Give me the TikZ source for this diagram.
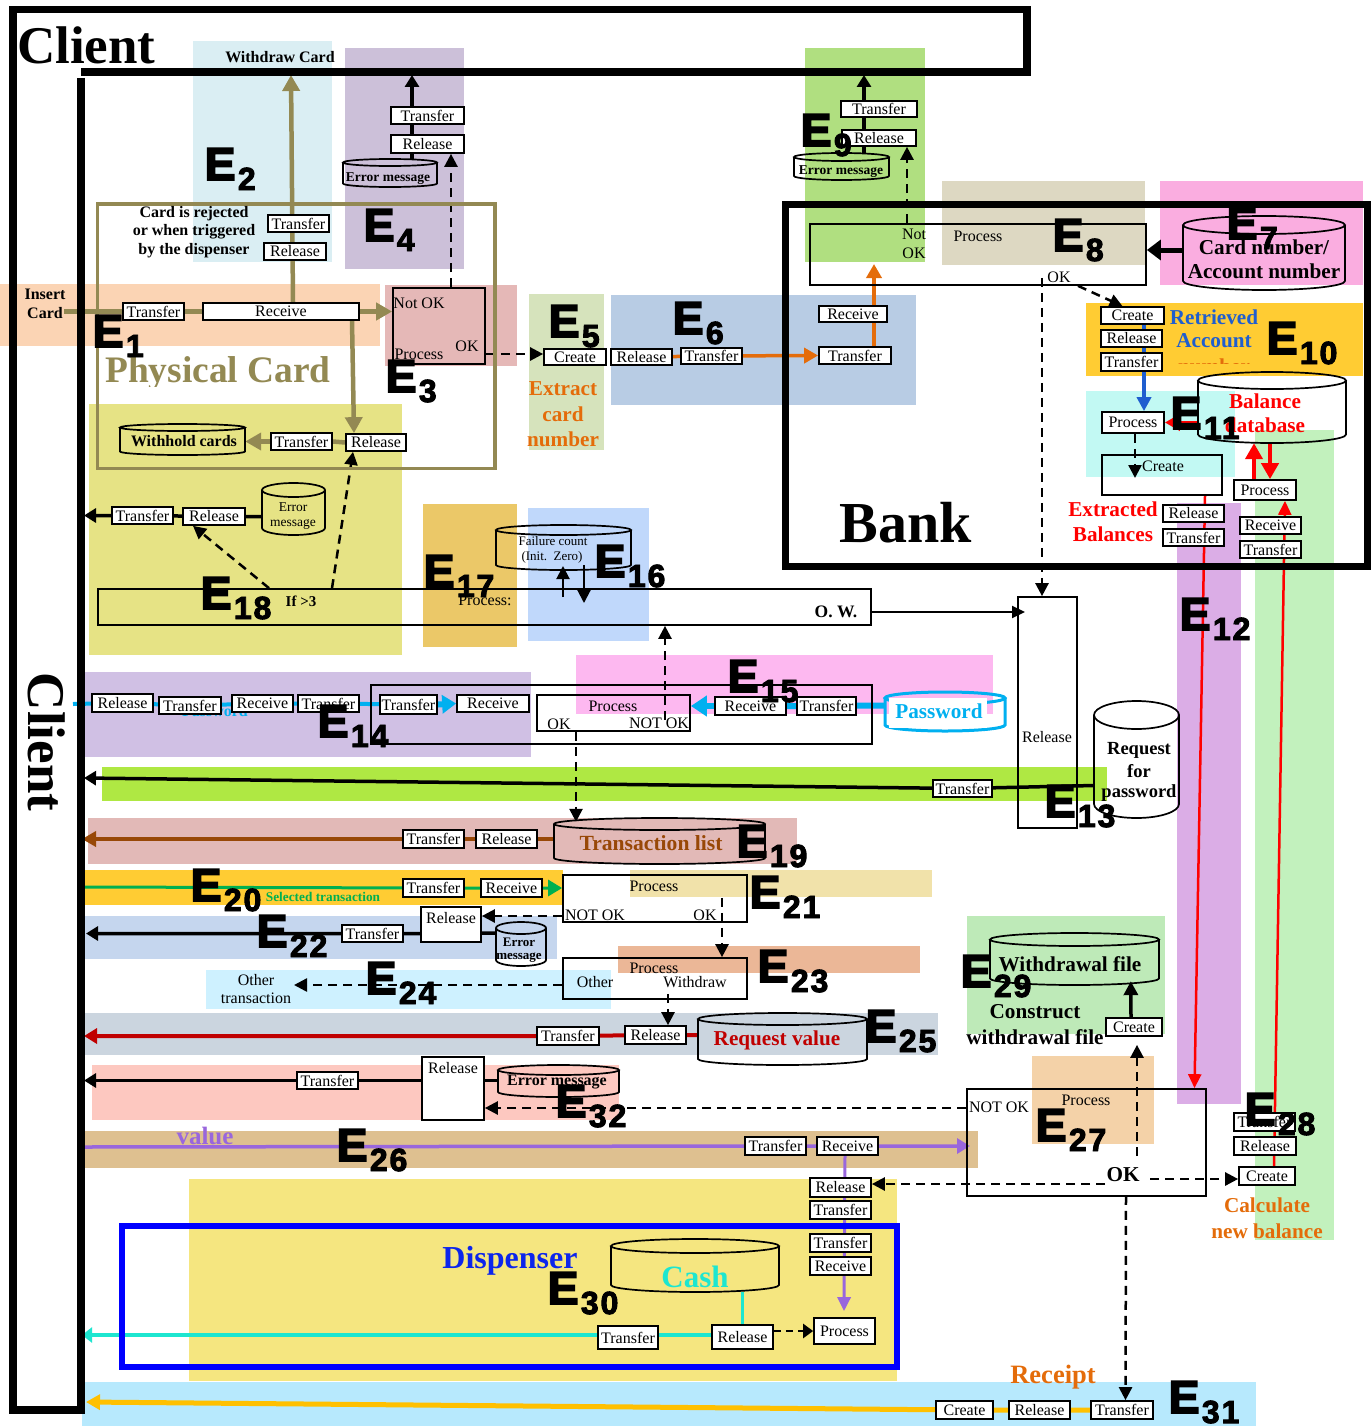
\documentclass[tikz,border=0pt]{standalone}
\usepackage{fontspec}
\setmainfont{Liberation Serif}
\newfontfamily\efont[FakeBold=4]{Liberation Sans Bold}
\newfontfamily\esub[FakeBold=3,LetterSpace=6]{Liberation Sans Bold}
\usetikzlibrary{arrows.meta,calc}
\pgfdeclarelayer{bg}\pgfdeclarelayer{conn}
\pgfsetlayers{bg,conn,main}
\definecolor{ce1}{HTML}{FBD4B4}\definecolor{ce2}{HTML}{DAEEF3}\definecolor{ce3}{HTML}{E5B8B7}
\definecolor{ce4}{HTML}{CCC0D9}\definecolor{ce5}{HTML}{D6E3BC}\definecolor{ce6}{HTML}{B8CCE4}
\definecolor{ce7}{HTML}{FAADE0}\definecolor{ce8}{HTML}{DDD8C2}\definecolor{ce9}{HTML}{B0DF80}
\definecolor{ce10}{HTML}{FFCC33}\definecolor{ce11}{HTML}{C2F9F3}\definecolor{ce12}{HTML}{DBADE6}
\definecolor{ce13}{HTML}{AFE843}\definecolor{ce14}{HTML}{D0C0E4}\definecolor{ce15}{HTML}{FDB8F0}
\definecolor{ce16}{HTML}{C0D8FB}\definecolor{ce17}{HTML}{EBC868}\definecolor{ce18}{HTML}{E6E385}
\definecolor{ce19}{HTML}{E2B9B7}\definecolor{ce21}{HTML}{F1E2AA}\definecolor{ce22}{HTML}{C5D6EE}
\definecolor{ce23}{HTML}{EBB797}\definecolor{ce24}{HTML}{CEF1FF}\definecolor{ce25}{HTML}{CBD5DF}
\definecolor{ce26}{HTML}{DEC090}\definecolor{ce27}{HTML}{F4D2A8}\definecolor{ce28}{HTML}{C2F1BD}
\definecolor{ce29}{HTML}{BEEAB8}\definecolor{ce30}{HTML}{F5E680}\definecolor{ce31}{HTML}{B7E9FD}
\definecolor{ce32}{HTML}{FDC8C0}
\definecolor{olive}{HTML}{938953}\definecolor{orng}{HTML}{E46C0A}\definecolor{skyb}{HTML}{00B0F0}
\definecolor{brwn}{HTML}{984807}\definecolor{grn}{HTML}{00B050}\definecolor{dkred}{HTML}{C00000}
\definecolor{purp}{HTML}{9966DD}\definecolor{aqua}{HTML}{1DE6D0}\definecolor{midb}{HTML}{1F5ECF}
\definecolor{gold}{HTML}{FFC000}
\newcount\txc
\tikzset{
 fs/.style={font=\fontsize{#1}{#1}\selectfont},
 bfs/.style={font=\fontsize{#1}{#1}\selectfont\bfseries},
 tbox/.style={draw,fill=white,line width=1.7pt,inner sep=0pt,fs=16},
 pbox/.style={draw,line width=1.7pt,inner sep=0pt},
 cylline/.style={line width=1.7pt},
 txtn/.style={inner sep=0pt,align=center},
 olinea/.style={olive,line width=4.5pt},
 otip/.style={-{Triangle[length=16pt,width=17pt]}},
 bline/.style={black,line width=3.5pt},
 btip/.style={-{Triangle[length=12pt,width=14pt]}},
 dline/.style={black,line width=2.5pt,dash pattern=on 9pt off 6pt,-{Triangle[length=13pt,width=13pt]}},
 thinb/.style={black,line width=2pt,-{Triangle[length=11pt,width=10pt]}},
 tipk/.style={-{Triangle[length=14pt,width=15pt]}},
 rthin/.style={red,line width=2.5pt},
}
\newcommand\reg[5]{\fill[#1] (#2,#3) rectangle (#4,#5);}
\newcommand\bx[6]{%
 \pgfmathsetmacro\cx{(#2+#4)/2}\pgfmathsetmacro\cy{(#3+#5)/2}%
 \pgfmathsetmacro\bxw{#4-#2}\pgfmathsetmacro\bxh{#5-#3}%
 \node[tbox,minimum width=\bxw pt,minimum height=\bxh pt] (#1) at (\cx,\cy) {\raisebox{-1.5pt}{#6}};}
\newcommand\fbx[5]{%
 \pgfmathsetmacro\cx{(#2+#4)/2}\pgfmathsetmacro\cy{(#3+#5)/2}%
 \pgfmathsetmacro\bxw{#4-#2}\pgfmathsetmacro\bxh{#5-#3}%
 \node[pbox,minimum width=\bxw pt,minimum height=\bxh pt] (#1) at (\cx,\cy) {};}
\newcommand\wbx[5]{%
 \pgfmathsetmacro\cx{(#2+#4)/2}\pgfmathsetmacro\cy{(#3+#5)/2}%
 \pgfmathsetmacro\bxw{#4-#2}\pgfmathsetmacro\bxh{#5-#3}%
 \node[pbox,fill=white,minimum width=\bxw pt,minimum height=\bxh pt] (#1) at (\cx,\cy) {};}
% \cyl[style]{name}{x1}{y1}{x2}{y2}{ry}
\newcommand\cyl[7][]{%
 \pgfmathsetmacro\cx{(#3+#5)/2}\pgfmathsetmacro\cy{(#4+#6)/2}%
 \pgfmathsetmacro\bxw{#5-#3}\pgfmathsetmacro\bxh{#6-#4}\pgfmathsetmacro\rx{(#5-#3)/2}%
 \pgfmathsetmacro\ya{#4+#7}\pgfmathsetmacro\yb{#6-#7}%
 \node[inner sep=0pt,minimum width=\bxw pt,minimum height=\bxh pt] (#2) at (\cx,\cy) {};
 \draw[cylline,#1] (\cx,\ya) ellipse [x radius=\rx pt,y radius=#7pt];
 \draw[cylline,#1] (#3,\ya) -- (#3,\yb) arc [start angle=180,end angle=360,x radius=\rx pt,y radius=#7pt] -- (#5,\ya);}
\newcommand\txt[4][fs=16]{\global\advance\txc by 1
 \node[txtn,#1] (lab\the\txc) at (#2,#3) {#4};}
\newcommand\el[3]{\node[inner sep=0pt,anchor=base west,xshift=-2.5pt] (E#3) at (#1,#2)
 {\efont\fontsize{46}{46}\selectfont E\kern2.5pt\raisebox{-10pt}{\esub\fontsize{32}{32}\selectfont #3}};}
\begin{document}
\begin{tikzpicture}[x=1pt,y=-1pt]
\useasboundingbox (0,0) rectangle (1372,1426);
\begin{pgfonlayer}{bg}
\fill[white] (0,0) rectangle (1372,1426);
\reg{ce28}{1255}{430}{1334}{1240}
\reg{ce2}{193}{41}{332}{262}
\reg{ce4}{345}{48}{464}{269}
\reg{ce1}{0}{284}{380}{346}
\reg{ce3}{385}{285}{517}{366}
\reg{ce5}{529}{294}{604}{450}
\reg{ce6}{611}{295}{916}{405}
\reg{ce9}{805}{48}{925}{262}
\reg{ce7}{1160}{181}{1363}{285}
\reg{ce8}{942}{181}{1145}{265}
\reg{ce10}{1086}{303}{1363}{376}
\reg{ce11}{1086}{391}{1235}{477}
\reg{ce12}{1177}{503}{1241}{1104}
\reg{ce18}{89}{404}{402}{655}
\reg{ce17}{423}{504}{517}{647}
\reg{ce16}{528}{508}{649}{641}
\reg{ce14}{85}{672}{531}{757}
\reg{ce15}{576}{655}{993}{714}
\reg{ce13}{102}{767}{1107}{801}
\reg{ce19}{88}{818}{797}{864}
\reg{ce10}{85}{870}{563}{905}
\reg{ce21}{630}{870}{932}{897}
\reg{ce22}{85}{916}{557}{959}
\reg{ce23}{618}{946}{920}{973}
\reg{ce24}{206}{970}{611}{1009}
\reg{ce25}{85}{1013}{938}{1055}
\reg{ce32}{92}{1065}{619}{1120}
\reg{ce26}{85}{1131}{978}{1168}
\reg{ce27}{1032}{1056}{1154}{1144}
\reg{ce29}{967}{916}{1165}{1034}
\reg{ce30}{189}{1179}{897}{1381}
\reg{ce31}{82}{1382}{1256}{1426}
\end{pgfonlayer}
% frames
\draw[line width=7.5pt,miter limit=10] (81,78) -- (81,1410) -- (13,1410) -- (13,9.5) -- (1027,9.5) -- (1027,72) -- (81,72);
\draw[line width=7pt] (785,204) rectangle (1367,566);
\draw[olive,line width=3.5pt] (97.5,204) rectangle (495,468.5);
\draw[blue,line width=5.5pt] (122,1226) rectangle (897,1367);
\coordinate (cledge) at (84,0);
\coordinate (edgeb) at (82,0);
\coordinate (edgec) at (86,0);
\coordinate (edged) at (970,0);
\coordinate (errline) at (0,1108);
% boxes top-left
\bx{tA}{123}{303}{184}{320}{Transfer}
\bx{rcv}{203}{303}{359}{320}{Receive}
\bx{trB}{268}{215}{329}{232}{Transfer}
\bx{rlB}{264}{243}{326}{260}{Release}
\bx{trD}{391}{107}{464}{124}{Transfer}
\bx{rlD}{391}{135}{464}{153}{Release}
\cyl{errD}{343}{159}{437}{187}{3.5}
\fbx{pC}{393}{288}{485}{364}
\cyl{wh}{120}{424}{245}{455}{3.5}
\bx{trW}{271}{433}{332}{450}{Transfer}
\bx{rlW}{346}{434}{406}{451}{Release}
\bx{crE}{544}{349}{606}{365}{Create}
\bx{rlF}{611}{349}{672}{365}{Release}
\bx{trF}{681}{348}{742}{364}{Transfer}
\bx{rcG}{819}{306}{887}{322}{Receive}
\bx{trG}{819}{347}{891}{364}{Transfer}
\bx{trI}{841}{101}{917}{117}{Transfer}
\bx{rlI}{842}{130}{916}{146}{Release}
\cyl{errI}{794}{153}{889}{180}{4}
\fbx{pH}{810}{224}{1146}{285}
\cyl{cn}{1183}{216}{1345}{290}{9}
\bx{crJ}{1101}{307}{1164}{324}{Create}
\bx{rlJ}{1101}{330}{1162}{347}{Release}
\bx{trJ}{1101}{353}{1162}{371}{Transfer}
\cyl{bal}{1198}{372}{1346}{443}{8.5}
\bx{prK}{1102}{412}{1164}{433}{Process}
\fbx{cbK}{1102}{455}{1222}{495}
\bx{rlL}{1163}{505}{1224}{522}{Release}
\bx{trL}{1163}{529}{1224}{546}{Transfer}
\bx{prM}{1234}{480}{1296}{500}{Process}
\bx{rcM}{1240}{517}{1301}{534}{Receive}
\bx{trM}{1240}{541}{1301}{558}{Transfer}
% E18 row
\cyl{errR}{262}{483}{325}{535}{7}
\bx{trR}{112}{507}{173}{524}{Transfer}
\bx{rlR}{183}{508}{245}{525}{Release}
\fbx{pR}{98}{589}{871}{625}
\cyl{fc}{496}{525}{631}{570}{5}
% E14 row
\bx{rlN}{92}{694}{153}{712}{Release}
\bx{trN}{159}{697}{221}{714}{Transfer}
\bx{rcN}{232}{695}{293}{712}{Receive}
\bx{trO}{298}{695}{359}{712}{Transfer}
\fbx{bigN}{371}{685}{872}{744}
\bx{trP}{380}{695}{437}{714}{Transfer}
\bx{rcP}{457}{695}{529}{712}{Receive}
\fbx{prO}{537}{695}{690}{731}
\bx{rcO}{715}{697}{786}{715}{Receive}
\bx{trQ}{797}{697}{856}{715}{Transfer}
\cyl[draw=skyb,line width=3pt]{pw}{885}{692}{1005}{731}{6}
\fill[white] (889,698) rectangle (987,728);
\fbx{relbig}{1018}{597}{1077}{828}
\cyl{rq}{1094}{701}{1179}{818}{14}
\bx{trS}{933}{780}{992}{797}{Transfer}
% E19
\bx{trT}{403}{830}{464}{848}{Transfer}
\bx{rlT}{476}{830}{537}{848}{Release}
\cyl{tl}{554}{818}{765}{864}{6}
% E20-22
\bx{trU}{403}{879}{464}{897}{Transfer}
\bx{rcU}{481}{879}{542}{897}{Receive}
\fbx{pU}{563}{875}{747}{922}
\wbx{rlV}{421}{907}{481}{942}
\bx{trV}{342}{925}{403}{942}{Transfer}
\cyl{errV}{496}{922}{546}{966}{6}
\fbx{pW}{563}{958}{747}{999}
\bx{rlX}{625}{1026}{686}{1044}{Release}
\bx{trX}{537}{1027}{599}{1045}{Transfer}
\cyl{rv}{698}{1013}{867}{1065}{6}
\wbx{rlY}{422}{1057}{484}{1120}
\bx{trY}{297}{1072}{358}{1089}{Transfer}
\cyl{errY}{498}{1065}{619}{1097}{5}
\fbx{pZ}{967}{1089}{1206}{1196}
\cyl{wf}{990}{933}{1159}{985}{6.5}
\bx{crZ}{1106}{1018}{1162}{1036}{Create}
\bx{trAA}{745}{1137}{806}{1155}{Transfer}
\bx{rcAA}{817}{1137}{878}{1155}{Receive}
\bx{rlBB}{810}{1178}{871}{1197}{Release}
\bx{trBB}{810}{1201}{871}{1219}{Transfer}
\bx{trCC}{810}{1234}{871}{1252}{Transfer}
\bx{rcCC}{810}{1257}{871}{1275}{Receive}
\bx{prCC}{814}{1318}{875}{1344}{Process}
\cyl{cash}{611}{1239}{779}{1292}{7}
\bx{rlDD}{712}{1325}{773}{1349}{Release}
\bx{trDD}{598}{1326}{658}{1349}{Transfer}
\bx{crEE}{936}{1401}{993}{1419}{Create}
\bx{rlEE}{1009}{1401}{1070}{1419}{Release}
\bx{trEE}{1091}{1401}{1153}{1419}{Transfer}
\bx{trFF}{1234}{1113}{1295}{1131}{Transfer}
\bx{rlFF}{1234}{1137}{1296}{1155}{Release}
\bx{crFF}{1239}{1167}{1295}{1185}{Create}
% free ends
\coordinate (insfree) at (64,311.5);
\coordinate (wcfree) at (291,75);
\coordinate (topD) at (412,75);
\coordinate (topI) at (864,75);
\coordinate (orH) at (874,264);
\coordinate (tipK) at (1135,478);
\coordinate (owend) at (1025,612);
\coordinate (fcupa) at (563,597);
\coordinate (fcupb) at (563,566);
\coordinate (fcdna) at (584,565);
\coordinate (fcdnb) at (584,603);
\coordinate (cystart) at (73,704);
\coordinate (pvstart) at (82,1147);
\coordinate (othertx) at (294,985);
\coordinate (wfstart) at (82,887);
\coordinate (cashend) at (82,1335);
\coordinate (rcpend) at (86,1402);
\coordinate (clientS) at (84,778);
\begin{pgfonlayer}{conn}
\node[txtn,bfs=16,text=skyb] (pwhidden) at (215,711) {Password};
% olive
\draw[olinea] (insfree) -- (tA) -- (rcv);
\draw[olinea,otip] (rcv.east) -- (rcv.east -| pC.west);
\draw[olinea,otip] ([xshift=12pt]rcv.north) -- (wcfree);
\draw[olinea,otip] ([xshift=71pt]rcv.south) -- ([xshift=-22pt]rlW.north);
\draw[olinea] (rlW.west) -- (trW.east);
\draw[olinea,otip] (trW.west) -- (trW.west -| wh.east);
% E4
\draw[bline,btip] ([xshift=22pt]errD.north) -- (topD);
\draw[dline] ([xshift=12pt]pC.north) -- ([xshift=23.5pt]rlD.south);
\draw[dline] ([yshift=-28pt]pC.east) -- ([yshift=3pt]crE.west);
% E6
\draw[orng,line width=3.5pt,tipk] (rlF) -- (trF) -- (trG.west);
\draw[orng,line width=3.5pt,tipk] ([xshift=19pt]trG.north) -- (orH);
% E9
\draw[bline,btip] ([xshift=22.5pt]errI.north) -- (topI);
\draw[dline] ([xshift=-71pt]pH.north) -- ([xshift=28pt]rlI.south);
% E8 etc
\draw[black,line width=5pt,-{Triangle[length=14pt,width=20pt]}] ([yshift=3pt]cn.west) -- ([yshift=3pt]cn.west -| pH.east);
\draw[dline] ([xshift=100pt]pH.south) -- ([xshift=-10pt]crJ.north);
\draw[dline] ([xshift=64pt,yshift=8pt]pH.south) -- ([xshift=-5.5pt]relbig.north);
\draw[midb,line width=4pt,-{Triangle[length=14pt,width=14pt]}] ([xshift=11.5pt]crJ.south) -- ([xshift=11pt]prK.north);
\draw[red,line width=4pt,-{Triangle[length=15pt,width=16pt]}] (prK.east -| bal.west) -- (prK.east);
\draw[dline] ([xshift=2pt]prK.south) -- (tipK);
\draw[rthin,-{Triangle[length=14pt,width=13pt]}] ([xshift=43pt]cbK.south) -- ([xshift=108pt]pZ.north);
\draw[rthin,-{Triangle[length=14pt,width=13pt]}] ([xshift=7pt]crFF.north) -- ([xshift=13.5pt]trM.south) -- ([xshift=20pt]prM.south);
\draw[red,line width=4.5pt,-{Triangle[length=16pt,width=17pt]}] ([xshift=-11pt]prM.north) -- ([xshift=-18pt]bal.south);
\draw[red,line width=4.5pt,-{Triangle[length=16pt,width=17pt]}] ([xshift=-2pt]bal.south) -- ([xshift=5pt]prM.north);
% E18
\draw[bline,btip] (errR.west |- rlR) -- (rlR) -- (trR) -- (trR.west -| cledge);
\draw[dline] ([xshift=-152.5pt]pR.north) -- ([xshift=-23pt]rlW.south);
\draw[dline] ([xshift=-215.5pt]pR.north) -- ([xshift=-21pt]rlR.south);
\draw[black,line width=2pt,-{Triangle[length=13pt,width=12pt]}] ([yshift=-5pt]pR.east) -- (owend);
\draw[thinb,-{Triangle[length=13pt,width=13pt]}] (fcupa) -- (fcupb);
\draw[thinb,-{Triangle[length=13pt,width=13pt]}] (fcdna) -- (fcdnb);
% E14 E15
\draw[skyb,line width=4pt] (cystart) -- (rlN) -- (trN) -- (rcN) -- (trO) -- (trP);
\draw[skyb,line width=6pt,-{Triangle[length=14pt,width=18pt]}] (trP.east) -- (rcP.west);
\draw[skyb,line width=6pt] ([yshift=6pt]pw.west) -- (trQ) -- (rcO);
\draw[skyb,line width=6pt,-{Triangle[length=16pt,width=20pt]}] (rcO.west) -- (rcO.west -| prO.east);
\draw[dline] ([xshift=51.5pt,yshift=-7pt]prO.center) -- ([xshift=180.5pt]pR.south);
\draw[dline] ([xshift=-37.5pt]prO.south) -- ([xshift=-83.5pt,yshift=-4pt]tl.north);
% E13
\draw[bline,btip] ([yshift=-26pt]rq.west) -- (trS) -- (clientS);
% E19
\draw[brwn,line width=4pt,-{Triangle[length=14pt,width=15pt]}] (tl.west |- rlT) -- (rlT) -- (trT) -- (trT.west -| edgeb);
% E20
\draw[grn,line width=3pt,-{Triangle[length=14pt,width=16pt]}] (wfstart) -- (trU) -- (rcU) -- (rcU.east -| pU.west);
\draw[dline] ([yshift=-17.5pt]pU.west) -- ([yshift=8.5pt]rlV.east);
\draw[bline,btip] ([yshift=11pt]errV.west) -- (rlV.west |- trV) -- (trV) -- (trV.west -| edgec);
\draw[dline] ([xshift=67pt,yshift=25pt]pU.south) -- ([xshift=67pt]pW.north);
\draw[dline] ([yshift=-6.5pt]pW.west) -- (othertx);
\draw[dline] ([xshift=13pt,yshift=6pt]pW.south) -- ([xshift=12.5pt]rlX.north);
\draw[dkred,line width=4pt,-{Triangle[length=13pt,width=15pt]}] (rv.west |- rlX) -- (rlX) -- (trX) -- (trX.west -| cledge);
\draw[bline,btip] (errY.west |- trY) -- (trY) -- (trY.west -| cledge);
\draw[dline] (pZ.west |- errline) -- (rlY.east |- errline);
\draw[dline] ([xshift=50.5pt,yshift=-13.5pt]pZ.center) -- ([xshift=3pt,yshift=-8pt]crZ.south);
\draw[dline] ([xshift=63.5pt,yshift=-36.5pt]pZ.center) -- ([yshift=-3pt]crFF.west);
\draw[dline] ([xshift=18.5pt,yshift=-41.5pt]pZ.center) -- ([yshift=3.5pt]rlBB.east);
\draw[dline] ([xshift=39.5pt,yshift=1pt]pZ.south) -- ([xshift=3.5pt]trEE.north);
\draw[black,line width=3.5pt,-{Triangle[length=14pt,width=14pt]}] ([xshift=-3pt]crZ.north) -- ([xshift=141pt,yshift=4pt]wf.south west);
% purple
\draw[purp,line width=3.5pt,-{Triangle[length=13pt,width=15pt]}] (pvstart) -- (trAA) -- (rcAA) -- (rcAA.east -| edged);
\draw[purp,line width=3pt,-{Triangle[length=14pt,width=13pt]}] ([xshift=-2.5pt]rcAA.south) -- ([xshift=-.5pt,yshift=6pt]prCC.north);
% cash
\draw[aqua,line width=3pt] (cash.south -| rlDD) -- (rlDD.north);
\draw[aqua,line width=4pt,-{Triangle[length=10pt,width=15pt]}] ([yshift=2pt]rlDD.west) -- (cashend);
\draw[black,line width=2.5pt,dash pattern=on 7pt off 5pt,-{Triangle[length=10pt,width=14pt]}] ([yshift=6pt]rlDD.east) -- ([yshift=0pt]prCC.west);
\draw[gold,line width=5pt,-{Triangle[length=14pt,width=15pt]}] (trEE) -- (rlEE) -- (crEE) -- (rcpend);
\end{pgfonlayer}
% text
\node[txtn,font=\fontsize{53}{53}\selectfont\bfseries,anchor=base west] (clienta) at (17,64) {Client};
\node[txtn,font=\fontsize{53}{53}\selectfont\bfseries,rotate=-90,anchor=base] (clientb) at (28,742) {Client};
\node[txtn,font=\fontsize{58}{58}\selectfont\bfseries] (bank) at (906,523) {Bank};
\begin{scope}\clip (90,340) rectangle (400,386);
\node[txtn,font=\fontsize{37.4}{37.4}\selectfont\bfseries,text=olive] (phys) at (218,374) {Physical Card};
\end{scope}
\txt[bfs=16]{280}{57}{Withdraw Card}
\txt[bfs=16]{194}{214}{Card is rejected}
\txt[bfs=16]{194}{232}{or when triggered}
\txt[bfs=16]{194}{251}{by the dispenser}
\txt[bfs=16]{45}{294}{Insert}
\txt[bfs=16]{45}{313}{Card}
\txt[bfs=13.5]{388}{179}{Error message}
\txt[bfs=13.5]{841}{172}{Error message}
\txt[bfs=16]{184}{441}{Withhold cards}
\txt[fs=16]{419}{303}{Not OK}
\txt[fs=16]{419}{354}{Process}
\txt[fs=16]{467}{346}{OK}
\txt[bfs=21.2,text=orng]{563}{389}{Extract}
\txt[bfs=21.2,text=orng]{563}{414}{card}
\txt[bfs=21.2,text=orng]{563}{439}{number}
\txt[fs=16]{914}{234}{Not}
\txt[fs=16]{914}{253}{OK}
\txt[fs=16]{978}{236}{Process}
\txt[fs=16]{1059}{277}{OK}
\txt[bfs=21.2]{1264}{247}{Card number/}
\txt[bfs=21.2]{1264}{271}{Account number}
\txt[bfs=21.2,text=midb]{1214}{317}{Retrieved}
\txt[bfs=21.2,text=midb]{1214}{341}{Account}
\begin{scope}\clip (1170,357) rectangle (1262,363.5);
\txt[bfs=21.2,text=orng]{1214}{366}{number}
\end{scope}
\txt[bfs=21.2,text=red]{1265}{401}{Balance}
\txt[bfs=21.2,text=red]{1265}{425}{database}
\txt[fs=16]{1163}{466}{Create}
\txt[bfs=21.2,text=red]{1113}{509}{Extracted}
\txt[bfs=21.2,text=red]{1113}{534}{Balances}
\txt[fs=13.5]{293}{507}{Error}
\txt[fs=13.5]{293}{524}{message}
\txt[bfs=15]{301}{601}{If >3}
\txt[fs=16]{485}{600}{Process:}
\txt[bfs=17.5]{836}{612}{O. W.}
\txt[fs=13]{553}{541}{Failure count}
\txt[fs=13]{552}{557}{(Init.\ \ Zero)}
\txt[fs=16]{613}{706}{Process}
\txt[fs=16]{559}{724}{OK}
\txt[fs=16]{659}{723}{NOT OK}
\txt[bfs=21.2,text=skyb]{939}{711}{Password}
\txt[fs=16]{1047}{737}{Release}
\txt[bfs=18.5]{1139}{750}{Request}
\txt[bfs=18.5]{1139}{771}{for}
\txt[bfs=18.5]{1139}{793}{password}
\txt[bfs=21.6,text=brwn]{651}{843}{Transaction list}
\txt[bfs=13.3,text=grn]{323}{897}{Selected transaction}
\txt[fs=16]{654}{886}{Process}
\txt[fs=16]{595}{915}{NOT OK}
\txt[fs=16]{705}{915}{OK}
\txt[fs=16]{451}{918}{Release}
\txt[bfs=13]{519}{942}{Error}
\txt[bfs=13]{519}{958}{message}
\txt[fs=16]{654}{968}{Process}
\txt[fs=16]{595}{982}{Other}
\txt[fs=16]{695}{982}{Withdraw}
\txt[fs=16]{256}{980}{Other}
\txt[fs=16]{256}{998}{transaction}
\txt[bfs=21.2,text=dkred]{777}{1040}{Request value}
\txt[fs=16]{453}{1068}{Release}
\txt[bfs=16]{557}{1082}{Error message}
\txt[bfs=25,text=purp]{205}{1136}{value}
\txt[fs=16]{999}{1107}{NOT OK}
\txt[fs=16]{1086}{1100}{Process}
\txt[bfs=21.2]{1123}{1175}{OK}
\txt[bfs=21.2]{1070}{964}{Withdrawal file}
\txt[bfs=21.2]{1035}{1012}{Construct}
\txt[bfs=21.2]{1035}{1037}{withdrawal file}
\txt[bfs=21.2,text=orng]{1267}{1205}{Calculate}
\txt[bfs=21.2,text=orng]{1267}{1231}{new balance}
\txt[bfs=32,text=midb!40!blue]{510}{1261}{Dispenser}
\txt[bfs=31,text=aqua]{695}{1277}{Cash}
\txt[bfs=26.5,text=orng]{1053}{1377}{Receipt}
% E labels
\el{95}{347}{1}\el{207}{180}{2}\el{388}{392}{3}\el{366}{241}{4}\el{551}{337}{5}
\el{675}{334}{6}\el{1229}{239}{7}\el{1055}{251}{8}\el{803}{146}{9}\el{1269}{354}{10}
\el{1173}{429}{11}\el{1182}{630}{12}\el{1047}{817}{13}\el{320}{737}{14}\el{730}{692}{15}
\el{597}{577}{16}\el{426}{587}{17}\el{203}{609}{18}\el{739}{857}{19}\el{193}{901}{20}
\el{752}{908}{21}\el{259}{947}{22}\el{760}{982}{23}\el{368}{994}{24}\el{868}{1042}{25}
\el{339}{1161}{26}\el{1038}{1141}{27}\el{1247}{1125}{28}\el{963}{987}{29}\el{550}{1304}{30}
\el{1171}{1413}{31}\el{558}{1117}{32}
\end{tikzpicture}
\end{document}
